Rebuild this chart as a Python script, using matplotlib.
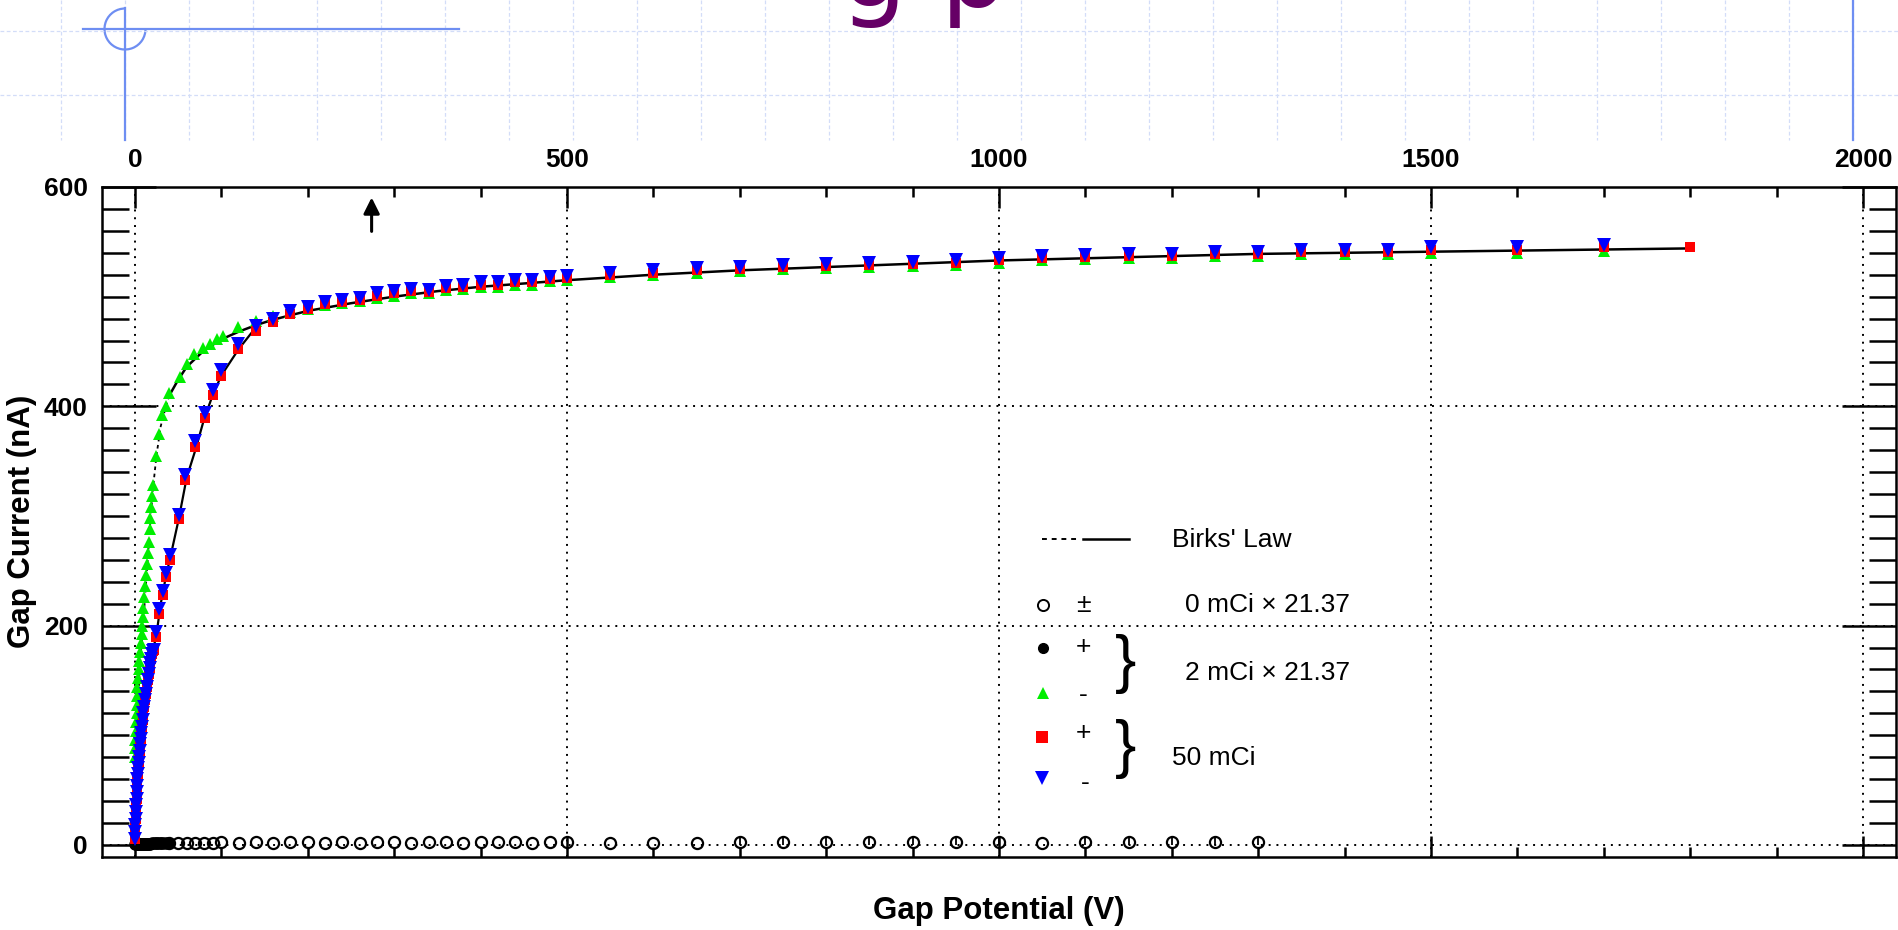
import numpy as np
import matplotlib.pyplot as plt
from matplotlib.patches import Arc
from matplotlib.transforms import offset_copy

plt.rcParams['font.family'] = ['Liberation Sans', 'DejaVu Sans']

# ---- data ----
# 50 mCi, dense low-voltage column
v_low50 = [0, 0, 0.5, 1, 1, 1.5, 2, 2, 3, 3, 4, 4, 5, 5, 6, 6, 7, 7, 8, 9,
           10, 11, 12, 13, 14, 15, 16, 17, 18, 19, 20, 21, 22]
i_low50 = [5, 12, 18, 24, 30, 36, 42, 48, 54, 60, 65, 70, 75, 80, 86, 92, 97, 102, 108, 114,
           120, 126, 132, 138, 144, 150, 156, 161, 166, 170, 174, 177, 178]

v_50 = [25, 28, 33, 36, 41, 51, 58, 70, 81, 91, 100, 119,
        140, 160, 180, 200, 220, 240, 260, 280, 300, 320, 340, 360, 380, 400, 420, 440, 460, 480, 500,
        550, 600, 650, 700, 750, 800, 850, 900, 950, 1000, 1050, 1100, 1150, 1200, 1250, 1300, 1350, 1400, 1450, 1500,
        1600, 1700]
i_blue = [194, 215, 232, 248, 264, 301, 337, 368, 394, 415, 433, 457,
          473, 480, 487, 491, 495, 497, 499, 503, 505, 507, 506, 510, 511, 513, 513, 515, 515, 518, 519,
          522, 524, 526, 527, 529, 530, 531, 532, 533, 535, 537, 538, 539, 539, 541, 541, 543, 543, 543, 545,
          545, 547]
v_red = v_50 + [1800]
i_red = [190, 211, 228, 244, 260, 297, 333, 363, 389, 410, 428, 452,
         469, 477, 484, 489, 493, 495, 497, 501, 503, 505, 504, 508, 509, 511, 511, 513, 513, 516, 517,
         520, 522, 524, 525, 527, 528, 529, 530, 531, 533, 535, 536, 537, 537, 539, 539, 541, 541, 541, 543,
         543, 545, 545]

# 2 mCi x 21.37, negative polarity
v_green = [0, 0, 0.5, 1, 1, 2, 2, 3, 3, 4, 5, 5, 6, 7, 8, 8, 9, 10, 11, 12,
           13, 14, 15, 16, 17, 18, 19, 20, 21,
           25, 28, 32, 36, 40, 52, 60, 69, 79, 87, 95, 102, 119,
           140, 160, 180, 200, 220, 240, 260, 280, 300, 320, 340, 360, 380, 400, 420, 440, 460, 480, 500,
           550, 600, 650, 700, 750, 800, 850, 900, 950, 1000, 1050, 1100, 1150, 1200, 1250, 1300, 1350, 1400, 1450, 1500,
           1600, 1700]
i_green = [80, 88, 96, 104, 112, 120, 128, 136, 144, 152, 160, 168, 176, 184, 192, 200, 208, 216, 226, 236,
           246, 256, 266, 276, 288, 298, 308, 318, 328,
           355, 375, 392, 400, 412, 427, 439, 448, 453, 457, 461, 464, 472,
           478, 482, 486, 489, 492, 494, 496, 499, 501, 503, 503, 506, 507, 509, 509, 511, 511, 514, 515,
           518, 520, 522, 523, 525, 526, 527, 528, 529, 531, 533, 534, 535, 535, 537, 537, 539, 539, 539, 540,
           540, 542]

# 2 mCi x 21.37, positive polarity
v_black = [0, 1, 2, 3, 4, 5, 6, 7, 8, 9, 10, 11, 12, 13, 14, 15, 16, 18, 20, 22, 24, 26, 28, 30, 32, 35, 38]
i_black = [0.5, 0.4, 0.6, 0.5, 0.7, 0.6, 0.8, 0.7, 0.9, 0.8, 1.0, 1.0, 1.1, 1.1, 1.2, 1.2, 1.3, 1.3,
           1.4, 1.4, 1.5, 1.5, 1.6, 1.6, 1.7, 1.8, 1.8]

# 0 mCi x 21.37
v_zero = [40, 50, 60, 70, 80, 90, 100, 120, 140, 160, 180, 200, 220, 240, 260, 280, 300, 320, 340, 360, 380,
          400, 420, 440, 460, 480, 500, 550, 600, 650, 700, 750, 800, 850, 900, 950, 1000, 1050, 1100,
          1150, 1200, 1250, 1300]
i_zero = [2, 2, 2, 2, 2, 2, 3, 2, 3, 2, 3, 3, 2, 3, 2, 3, 3, 2, 3, 3, 2,
          3, 3, 3, 2, 3, 3, 2, 2, 2, 3, 3, 3, 3, 3, 3, 3, 2, 3,
          3, 3, 3, 3]
e_zero = [0, 0, 0, 0, 0, 0, 0, 0, 0, 0, 0, 0, 0, 0, 0, 0, 0, 0, 0, 0, 0,
          0, 0, 0, 0, 0, 0, 0, 0, 0, 3, 3, 3, 3, 3, 3, 3, 0, 3,
          3, 3, 3, 3]

# Birks' law curves
v_birks2 = [0, 1, 3, 6, 10, 14, 18, 21, 25, 30, 36, 40]
i_birks2 = [0, 70, 120, 165, 205, 250, 295, 325, 355, 382, 400, 410]
v_birks = [40, 50, 60, 80, 100, 120, 140, 160, 200, 250, 300, 350, 400, 450, 500, 600, 700, 800, 900,
           1000, 1100, 1200, 1300, 1400, 1500, 1600, 1700, 1800]
i_birks = [410, 424, 436, 451, 461, 468, 474, 479, 487, 494, 500, 505, 509, 512, 515, 520, 524, 527, 530,
           533, 535, 537, 539, 540, 541, 542, 543, 544]
v_birks50 = [0, 5, 10, 15, 21, 25, 30, 36, 41, 51, 60, 70, 80, 90, 100, 120, 140]
i_birks50 = [0, 60, 100, 138, 177, 192, 220, 245, 262, 298, 335, 360, 388, 410, 428, 452, 472]

x_major = [0, 500, 1000, 1500, 2000]
y_major = [0, 200, 400, 600]

W, H = 1899, 930
fig = plt.figure(figsize=(W / 100, H / 100), dpi=100)

# ---- slide background decoration (pixel coordinates) ----
bg = fig.add_axes([0, 0, 1, 1], zorder=0)
bg.set_xlim(0, W)
bg.set_ylim(H, 0)
bg.axis('off')
for gx in np.arange(-3, W, 64):
    bg.plot([gx, gx], [0, 140], color='#d3ddf8', lw=0.9, ls=(0, (3, 2)))
for gy in [31, 95]:
    bg.plot([0, W], [gy, gy], color='#d3ddf8', lw=0.9, ls=(0, (3, 2)))
deco = '#6e8ef2'
bg.plot([83, 459], [29, 29], color=deco, lw=1.6)
bg.plot([125, 125], [8, 140], color=deco, lw=1.6)
bg.add_patch(Arc((125, 29), 41, 41, theta1=0, theta2=270, color=deco, lw=1.6))
bg.plot([1853, 1853], [0, 140], color=deco, lw=1.6)
# slide title, cut off by the top edge as in the original slide
bg.text(840, 6, 'g p', color='#660066', fontsize=76, family='DejaVu Sans', va='baseline')

# ---- main plot ----
ax = fig.add_axes([102 / W, 1 - 857 / H, (1896 - 102) / W, (857 - 187) / H], zorder=1)
ax.set_xlim(-38, 2038)
ax.set_ylim(-11, 600)

ax.grid(True, which='major', color='black', ls=(0, (1, 3)), lw=1.4)
ax.set_axisbelow(True)

ax.plot(v_birks2, i_birks2, color='black', lw=1.3, ls=(0, (2, 2)), zorder=2)
ax.plot(v_birks50, i_birks50, color='black', lw=1.6, zorder=2)
ax.plot(v_birks, i_birks, color='black', lw=1.8, zorder=2)

ax.errorbar(v_zero, i_zero, yerr=e_zero, fmt='o', mfc='none', mec='black', ecolor='black',
            ms=8, mew=1.6, elinewidth=1.3, capsize=0, zorder=3)
ax.plot(v_black, i_black, 'o', color='black', ms=8, zorder=3)
ax.plot(v_green, i_green, '^', color='#00ee00', ms=8, mew=0, zorder=4)
ax.plot(v_low50, i_low50, 's', color='#ff0000', ms=7, mew=0, zorder=4)
ax.plot(v_red, i_red, 's', color='#ff0000', ms=7, mew=0, zorder=4)
ax.plot(v_low50, i_low50, 'v', color='#0000ff', ms=10, mew=0, zorder=5)
ax.plot(v_50, i_blue, 'v', color='#0000ff', ms=10, mew=0, zorder=5)

ax.annotate('', xy=(274, 593), xytext=(274, 557),
            arrowprops=dict(arrowstyle='-|>', color='black', lw=2.2, mutation_scale=24))

ax.set_xticks(x_major)
ax.set_xticks(np.arange(0, 2001, 100), minor=True)
ax.set_yticks(y_major)
ax.set_yticks(np.arange(0, 601, 20), minor=True)
ax.tick_params(axis='x', which='major', direction='in', top=True, bottom=True,
               labeltop=True, labelbottom=False, length=15, width=1.8, pad=11, labelsize=19)
ax.tick_params(axis='x', which='minor', direction='in', top=True, bottom=True,
               length=7, width=1.8)
ax.tick_params(axis='y', which='major', direction='in', left=True, right=True,
               labelleft=False, length=39, width=1.8)
ax.tick_params(axis='y', which='minor', direction='in', left=True, right=True,
               length=19.5, width=1.8)
for lab in ax.get_xticklabels():
    lab.set_fontweight('bold')
ylab_tr = offset_copy(ax.get_yaxis_transform(), fig=fig, x=-14, y=0, units='dots')
for yv in y_major:
    ax.text(0, yv, str(yv), transform=ylab_tr, ha='right', va='center_baseline',
            fontsize=19, fontweight='bold', clip_on=False)
for sp in ax.spines.values():
    sp.set_linewidth(1.8)

fig.text(999 / W, 1 - 911 / H, 'Gap Potential (V)', ha='center', va='center',
         fontsize=22.5, fontweight='bold')
fig.text(22 / W, 1 - 521 / H, 'Gap Current (nA)', ha='center', va='center',
         rotation=90, fontsize=22.5, fontweight='bold')

# ---- hand-made legend (pixel coordinates) ----
lg = fig.add_axes([0, 0, 1, 1], zorder=2)
lg.set_xlim(0, W)
lg.set_ylim(H, 0)
lg.axis('off')
lg.plot([1042, 1077], [539, 539], color='black', lw=1.4, ls=(0, (2.5, 2.5)))
lg.plot([1083, 1129], [539, 539], color='black', lw=1.8)
lg.text(1172, 540, "Birks' Law", fontsize=19, va='center')
lg.plot([1043], [605], 'o', mfc='none', mec='black', ms=8, mew=1.4)
lg.text(1083, 605, '±', fontsize=19, va='center', ha='center')
lg.text(1185, 605, '0 mCi × 21.37', fontsize=19, va='center')
lg.plot([1043], [648], 'o', color='black', ms=7)
lg.text(1083, 647, '+', fontsize=19, va='center', ha='center')
lg.plot([1043], [693], '^', color='#00ee00', ms=9, mew=0)
lg.text(1083, 695, '-', fontsize=19, va='center', ha='center')
lg.text(1126, 664, '}', fontsize=46, va='center', ha='center')
lg.text(1185, 673, '2 mCi × 21.37', fontsize=19, va='center')
lg.plot([1042], [737], 's', color='#ff0000', ms=9, mew=0)
lg.text(1083, 733, '+', fontsize=19, va='center', ha='center')
lg.plot([1042], [778], 'v', color='#0000ff', ms=10, mew=0)
lg.text(1085, 783, '-', fontsize=19, va='center', ha='center')
lg.text(1126, 749, '}', fontsize=46, va='center', ha='center')
lg.text(1172, 758, '50 mCi', fontsize=19, va='center')

fig.savefig('out.png', dpi=100)
